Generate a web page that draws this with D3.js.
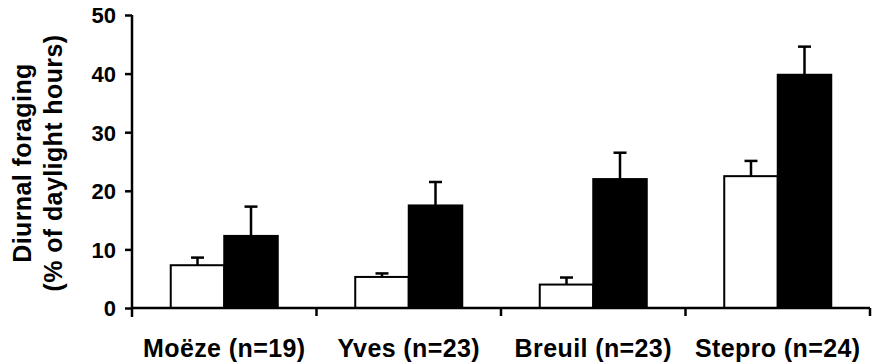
<!DOCTYPE html>
<html>
<head>
<meta charset="utf-8">
<script src="https://cdn.jsdelivr.net/npm/d3@7"></script>
<style>
  body { margin: 0; background: #fff; }
  text { font-family: "Liberation Sans", Arial, sans-serif; font-weight: bold; fill: #000; }
</style>
</head>
<body>
<div class="chart"></div>
<script>
var sites = ['Moëze (n=19)', 'Yves (n=23)', 'Breuil (n=23)', 'Stepro (n=24)'];
var openMeans = [7.3, 5.3, 4.0, 22.5];
var openErrors = [8.6, 5.9, 5.2, 25.1];
var filledMeans = [12.3, 17.5, 22.0, 39.8];
var filledErrors = [17.3, 21.5, 26.5, 44.6];
var yTicks = [0, 10, 20, 30, 40, 50];

function init() {
  var width = 879,
      height = 363,
      left = 132,
      right = 870,
      top = 15,
      bottom = 308;

  var svg = d3.select('.chart')
    .append('svg')
      .attr('width', width)
      .attr('height', height);

  var x0 = d3.scaleBand()
    .domain(sites)
    .range([left, right])
    .paddingInner(0.42)
    .paddingOuter(0.21);

  var x1 = d3.scaleBand()
    .domain(['open', 'filled'])
    .range([0, x0.bandwidth()]);

  var y = d3.scaleLinear()
    .domain([0, 50])
    .range([bottom, top]);

  var data = [];
  sites.forEach(function(s, i) {
    data.push({ site: s, kind: 'open', v: openMeans[i], e: openErrors[i] });
    data.push({ site: s, kind: 'filled', v: filledMeans[i], e: filledErrors[i] });
  });

  // error bars first so bars sit on top of the stem base
  var err = svg.append('g').selectAll('g').data(data).enter().append('g');
  err.append('line')
      .attr('x1', function(d) { return x0(d.site) + x1(d.kind) + x1.bandwidth() / 2; })
      .attr('x2', function(d) { return x0(d.site) + x1(d.kind) + x1.bandwidth() / 2; })
      .attr('y1', function(d) { return y(d.v); })
      .attr('y2', function(d) { return y(d.e); })
      .attr('stroke', '#000')
      .attr('stroke-width', 2.5);
  err.append('line')
      .attr('x1', function(d) { return x0(d.site) + x1(d.kind) + x1.bandwidth() / 2 - 6.5; })
      .attr('x2', function(d) { return x0(d.site) + x1(d.kind) + x1.bandwidth() / 2 + 6.5; })
      .attr('y1', function(d) { return y(d.e); })
      .attr('y2', function(d) { return y(d.e); })
      .attr('stroke', '#000')
      .attr('stroke-width', 2.5);

  svg.append('g').selectAll('rect').data(data).enter().append('rect')
      .attr('x', function(d) { return x0(d.site) + x1(d.kind); })
      .attr('y', function(d) { return y(d.v); })
      .attr('width', x1.bandwidth())
      .attr('height', function(d) { return y(0) - y(d.v); })
      .attr('fill', function(d) { return d.kind === 'open' ? '#fff' : '#000'; })
      .attr('stroke', '#000')
      .attr('stroke-width', 2);

  // y axis
  var yAxis = svg.append('g')
      .attr('transform', 'translate(' + left + ',0)')
      .call(d3.axisLeft(y).tickValues(yTicks).tickSize(7).tickPadding(9));
  yAxis.select('.domain').remove();
  yAxis.append('line')
      .attr('x1', 0).attr('x2', 0)
      .attr('y1', top).attr('y2', bottom + 9)
      .attr('stroke', '#000').attr('stroke-width', 2.5);
  yAxis.selectAll('.tick line').attr('stroke-width', 2.5);
  yAxis.selectAll('.tick text').style('font-size', '22px').attr('dy', '0.36em');

  // x axis: ticks at band edges
  var step = x0.step();
  var edges = sites.map(function(s) { return x0(s) + x0.bandwidth() + step * x0.paddingInner() / 2; });
  var xAxis = svg.append('g');
  xAxis.append('line')
      .attr('x1', left).attr('x2', right)
      .attr('y1', bottom).attr('y2', bottom)
      .attr('stroke', '#000').attr('stroke-width', 2.5);
  xAxis.selectAll('line.tk').data(edges).enter().append('line')
      .attr('class', 'tk')
      .attr('x1', function(d) { return d; }).attr('x2', function(d) { return d; })
      .attr('y1', bottom).attr('y2', bottom + 8)
      .attr('stroke', '#000').attr('stroke-width', 2.5);
  xAxis.selectAll('text').data(sites).enter().append('text')
      .attr('x', function(d) { return x0(d) + x0.bandwidth() / 2; })
      .attr('y', 357)
      .attr('text-anchor', 'middle')
      .style('font-size', '25px')
      .style('letter-spacing', '0.4px')
      .text(function(d) { return d; });

  // y title
  var title = svg.append('g').attr('transform', 'translate(0,163) rotate(-90)');
  title.append('text')
      .attr('x', 0).attr('y', 31)
      .attr('text-anchor', 'middle')
      .style('font-size', '25px')
      .style('letter-spacing', '0.4px')
      .text('Diurnal foraging');
  title.append('text')
      .attr('x', 0).attr('y', 62)
      .attr('text-anchor', 'middle')
      .style('font-size', '25px')
      .style('letter-spacing', '0.4px')
      .text('(% of daylight hours)');
}

d3.select(window).on('load', init);
</script>
</body>
</html>
